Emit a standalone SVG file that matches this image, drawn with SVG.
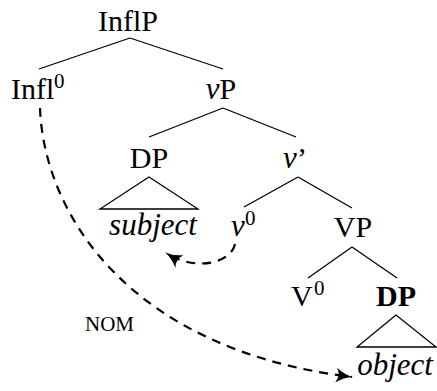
<svg xmlns="http://www.w3.org/2000/svg" width="437" height="391" viewBox="0 0 437 391">
<defs>
<style>
text{font-family:"Liberation Serif","Times New Roman",serif;font-size:30px;fill:#000;text-anchor:middle}
.it{font-style:italic;font-size:31px}
.b{font-weight:bold}
.sup{font-size:21px;text-anchor:start}
.st{text-anchor:start}
.nom{font-size:21px;text-anchor:start}
.edge{stroke:#000;stroke-width:1.3;fill:none}
.dash{stroke:#000;stroke-width:2.2;fill:none;stroke-dasharray:9,7}
.tri{stroke:#000;stroke-width:1.3;fill:none}
</style>
<marker id="arr" viewBox="0 0 17 15" refX="16" refY="7.5" markerWidth="17" markerHeight="15" markerUnits="userSpaceOnUse" orient="auto">
<path d="M0,0 Q8,6 17,7.5 Q8,9 0,15 Q5,7.5 0,0 Z" fill="#000"/>
</marker>
</defs>
<g id="connectors">
<line class="edge" x1="130" y1="38" x2="39" y2="69"/>
<line class="edge" x1="130" y1="38" x2="223" y2="69"/>
<line class="edge" x1="223" y1="108" x2="149" y2="137"/>
<line class="edge" x1="223" y1="108" x2="296" y2="137"/>
<line class="edge" x1="298" y1="177" x2="244" y2="207"/>
<line class="edge" x1="298" y1="177" x2="352" y2="208"/>
<line class="edge" x1="352" y1="247" x2="308" y2="278"/>
<line class="edge" x1="352" y1="247" x2="397" y2="278"/>
<path class="dash" d="M40,108 C44,215 130,350 352,377" marker-end="url(#arr)"/>
<path class="dash" d="M235,244 C231,263 196,272 166,253" marker-end="url(#arr)"/>
</g>
<g id="InflP"><text x="128" y="31">InflP</text></g>
<g id="Infl0"><text class="st" x="11" y="99">Infl</text><text class="sup" x="54" y="88">0</text></g>
<g id="vP"><text x="221" y="99"><tspan class="it">v</tspan>P</text></g>
<g id="DP-subj"><text x="149" y="168">DP</text><polygon class="tri" points="149,177 100,209 198,209"/><text class="it" x="153" y="235">subject</text></g>
<g id="v-bar"><text x="295" y="168"><tspan class="it">v</tspan>’</text></g>
<g id="v0"><text class="it st" x="231" y="236">v</text><text class="sup" x="245" y="225">0</text></g>
<g id="VP"><text x="353" y="237">VP</text></g>
<g id="V0"><text class="st" x="291" y="306">V</text><text class="sup" x="314" y="295">0</text></g>
<g id="DP-obj"><text class="b" x="396" y="306">DP</text><polygon class="tri" points="396,315 357,347 436,347"/><text class="it" x="395" y="375">object</text></g>
<g id="NOM"><text class="nom" x="85" y="331">NOM</text></g>
</svg>
